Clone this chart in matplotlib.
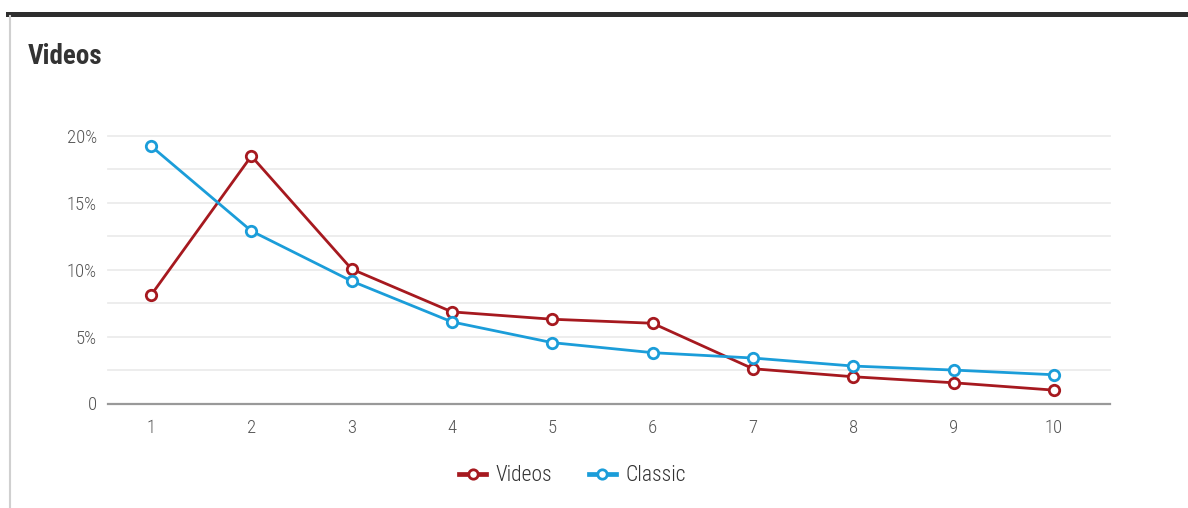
import matplotlib
matplotlib.use("Agg")
import matplotlib.pyplot as plt
from matplotlib import font_manager
from matplotlib.lines import Line2D

ranks = [1, 2, 3, 4, 5, 6, 7, 8, 9, 10]
videos = [8.1, 18.5, 10.05, 6.85, 6.3, 6.0, 2.6, 2.0, 1.55, 1.0]
classic = [19.25, 12.9, 9.15, 6.1, 4.55, 3.8, 3.4, 2.8, 2.5, 2.15]
yticks = [0, 5, 10, 15, 20]
ytick_labels = ["0", "5%", "10%", "15%", "20%"]

# pick the narrowest sans face that is installed
installed = {f.name for f in font_manager.fontManager.ttflist}
candidates = ["Roboto Condensed", "Liberation Sans Narrow", "Open Sans Condensed",
              "Roboto", "Liberation Sans"]
face = next((c for c in candidates if c in installed), "DejaVu Sans")
plt.rcParams["font.family"] = [face, "DejaVu Sans"]

red = "#a6191f"
blue = "#1b9dd9"

fig = plt.figure(figsize=(11.88, 5.08), dpi=100)

# frame: dark band on top, thin grey border on the left
fig.add_artist(Line2D([8 / 1188, 1], [1 - 13.5 / 508] * 2, color="#2e2e2e", lw=3.6,
                      transform=fig.transFigure))
fig.add_artist(Line2D([9.5 / 1188] * 2, [0, 1 - 16 / 508], color="#d0d0d0", lw=1.5,
                      transform=fig.transFigure))
fig.text(28 / 1188, 1 - 57 / 508, "Videos", fontsize=19.5, fontweight="bold",
         color="#333333", va="center", ha="left")

ax = fig.add_axes([108 / 1188, 1 - 403.5 / 508, 1002 / 1188, 267.5 / 508])
ax.set_xlim(0.571, 10.56)
ax.set_ylim(0, 20)

for y in [2.5, 5, 7.5, 10, 12.5, 15, 17.5, 20]:
    ax.axhline(y, color="#ececec", lw=1.3, zorder=0, clip_on=False)

ax.plot(ranks, videos, color=red, lw=2.0, marker="o", ms=7.5, mfc="white",
        mec=red, mew=2.0, label="Videos", clip_on=False, zorder=3)
ax.plot(ranks, classic, color=blue, lw=2.0, marker="o", ms=7.5, mfc="white",
        mec=blue, mew=2.0, label="Classic", clip_on=False, zorder=3)

for s in ["top", "right", "left"]:
    ax.spines[s].set_visible(False)
ax.spines["bottom"].set_color("#999999")
ax.spines["bottom"].set_linewidth(1.6)

ax.set_xticks(ranks)
ax.set_xticklabels([str(r) for r in ranks])
ax.set_yticks(yticks)
ax.set_yticklabels(ytick_labels)
ax.tick_params(axis="x", length=0, pad=11, labelsize=13.5, labelcolor="#555555")
ax.tick_params(axis="y", length=0, pad=8, labelsize=13.5, labelcolor="#555555")
for lbl in ax.get_xticklabels() + ax.get_yticklabels():
    lbl.set_fontweight("light")

leg = ax.legend(loc="center", bbox_to_anchor=(0.4636, -0.27), ncol=2, frameon=False,
                prop={"size": 15.5, "weight": "light"}, handlelength=1.25,
                columnspacing=1.7, handletextpad=0.45, labelcolor="#333333",
                markerscale=0.9)
for h in leg.legend_handles:
    h.set_linewidth(3.4)

fig.savefig("out.png", dpi=100)
